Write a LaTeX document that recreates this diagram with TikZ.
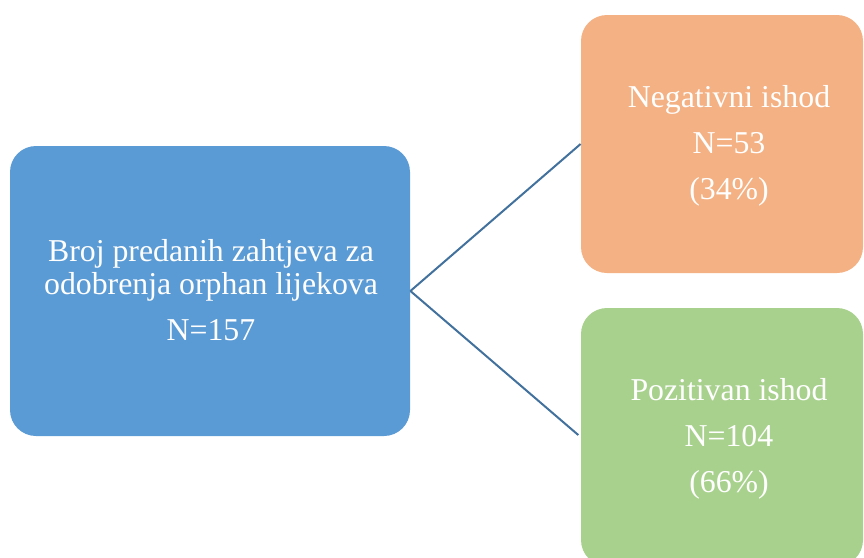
\documentclass[tikz,border=0pt]{standalone}
\usepackage{fontspec}
\setmainfont{Liberation Serif}
\definecolor{boxblue}{HTML}{5B9BD5}
\definecolor{boxorange}{HTML}{F4B183}
\definecolor{boxgreen}{HTML}{A9D18E}
\definecolor{linkblue}{HTML}{41719C}
\tikzset{
box/.style={rectangle, rounded corners=13pt, inner sep=0pt},
boxtext/.style={text=white, font=\fontsize{15.9}{23}\selectfont, align=center, anchor=base, inner sep=0pt}
}
\begin{document}
\begin{tikzpicture}[x=0.5pt,y=-0.5pt]
\useasboundingbox (0,0) rectangle (864,558);
\node [box, fill=boxblue, minimum width=200pt, minimum height=145pt] (zahtjevi) at (210,291) {};
\node [box, fill=boxorange, minimum width=141pt, minimum height=129pt] (negativni) at (722,144) {};
\node [box, fill=boxgreen, minimum width=141pt, minimum height=129pt] (pozitivni) at (722,437) {};

\node [boxtext] (zahtjevitekst) at (211,340) {Broj predanih zahtjeva za\\[-6.5pt]odobrenja orphan lijekova\\N=157};
\node [boxtext] (negativnitekst) at (729,199) {Negativni ishod\\N=53\\(34\%)};
\node [boxtext] (pozitivnitekst) at (729,492) {Pozitivan ishod\\N=104\\(66\%)};

\draw [line width=1pt, linkblue, shorten >=1.5pt]
(zahtjevi.east) -- (negativni.west)
(zahtjevi.east) -- (pozitivni.west);
\end{tikzpicture}
\end{document}
